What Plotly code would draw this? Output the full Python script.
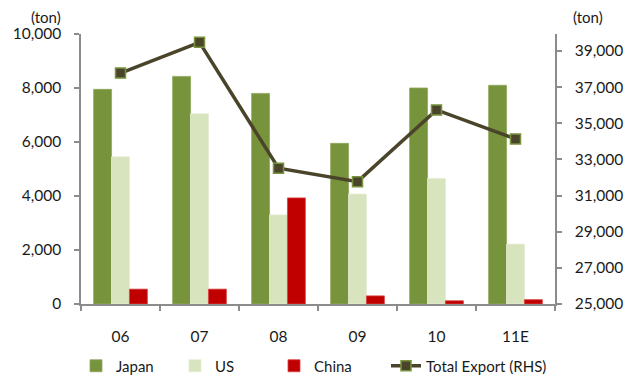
import plotly.graph_objects as go

categories = ["06", "07", "08", "09", "10", "11E"]
japan = [7950, 8430, 7800, 5950, 8000, 8100]
us = [5450, 7050, 3300, 4070, 4650, 2220]
china = [550, 550, 3930, 300, 120, 160]
total_export = [37780, 39480, 32510, 31770, 35740, 34130]

FONT = "Lato"
AXIS_COLOR = "#8C8C8C"
TEXT_COLOR = "#1A1A1A"
TICK_SIZE = 15.5

# the page body has an 8px margin, so the figure is drawn 8px smaller and shifted
W, H = 627, 368

fig = go.Figure()
fig.add_trace(go.Bar(name="Japan", x=categories, y=japan,
                     marker=dict(color="#77933C", line=dict(color="#8FA85A", width=0.8))))
fig.add_trace(go.Bar(name="US", x=categories, y=us,
                     marker=dict(color="#D7E4BD", line=dict(color="#E4EDD3", width=0.8))))
fig.add_trace(go.Bar(name="China", x=categories, y=china,
                     marker=dict(color="#C00000", line=dict(color="#D94040", width=0.8))))
fig.add_trace(go.Scatter(name="Total Export (RHS)", x=categories, y=total_export,
                         yaxis="y2", mode="lines+markers", legend="legend2",
                         line=dict(color="#4A452A", width=3.5),
                         marker=dict(symbol="square", size=10, color="#4A452A",
                                     line=dict(color="#77933C", width=1.5))))

legend_common = dict(orientation="h", xref="container", yref="container",
                     xanchor="left", y=10 / H, yanchor="middle",
                     font=dict(family=FONT, size=15, color=TEXT_COLOR),
                     traceorder="normal", bgcolor="rgba(0,0,0,0)")

fig.update_layout(
    width=W, height=H,
    margin=dict(l=73, r=80, t=26, b=72),
    plot_bgcolor="white", paper_bgcolor="white",
    font=dict(family=FONT, size=15, color=TEXT_COLOR),
    barmode="group", bargap=0.32, bargroupgap=0,
    showlegend=True,
    legend=dict(x=68 / W, entrywidth=54, entrywidthmode="pixels", **legend_common),
    legend2=dict(x=378 / W, **legend_common),
    xaxis=dict(type="category", showgrid=False, showline=True, linecolor=AXIS_COLOR, linewidth=1.5,
               ticks="outside", ticklen=5, tickcolor=AXIS_COLOR, tickwidth=1.5,
               tickson="boundaries", ticklabelstandoff=18, automargin=False,
               tickfont=dict(family=FONT, size=TICK_SIZE, color=TEXT_COLOR)),
    yaxis=dict(range=[0, 10000], dtick=2000, tickformat=",", showgrid=False, zeroline=False,
               showline=True, linecolor=AXIS_COLOR, linewidth=1.5,
               ticks="outside", ticklen=5, tickcolor=AXIS_COLOR, tickwidth=1.5,
               ticklabelstandoff=10, automargin=False,
               tickfont=dict(family=FONT, size=TICK_SIZE, color=TEXT_COLOR)),
    yaxis2=dict(range=[25000, 39940], tickvals=[25000, 27000, 29000, 31000, 33000, 35000, 37000, 39000],
                tickformat=",", overlaying="y", side="right", showgrid=False, zeroline=False,
                showline=True, linecolor=AXIS_COLOR, linewidth=1.5,
                ticks="outside", ticklen=5, tickcolor=AXIS_COLOR, tickwidth=1.5,
                ticklabelstandoff=10, automargin=False,
                tickfont=dict(family=FONT, size=TICK_SIZE, color=TEXT_COLOR)),
)

fig.add_annotation(text="(ton)", xref="paper", yref="paper", x=0.0, y=1.0, xshift=-18, yshift=17,
                   xanchor="right", yanchor="middle", showarrow=False,
                   font=dict(family=FONT, size=15, color=TEXT_COLOR))
fig.add_annotation(text="(ton)", xref="paper", yref="paper", x=1.0, y=1.0, xshift=16, yshift=17,
                   xanchor="left", yanchor="middle", showarrow=False,
                   font=dict(family=FONT, size=15, color=TEXT_COLOR))

fig.write_html("out.html")
